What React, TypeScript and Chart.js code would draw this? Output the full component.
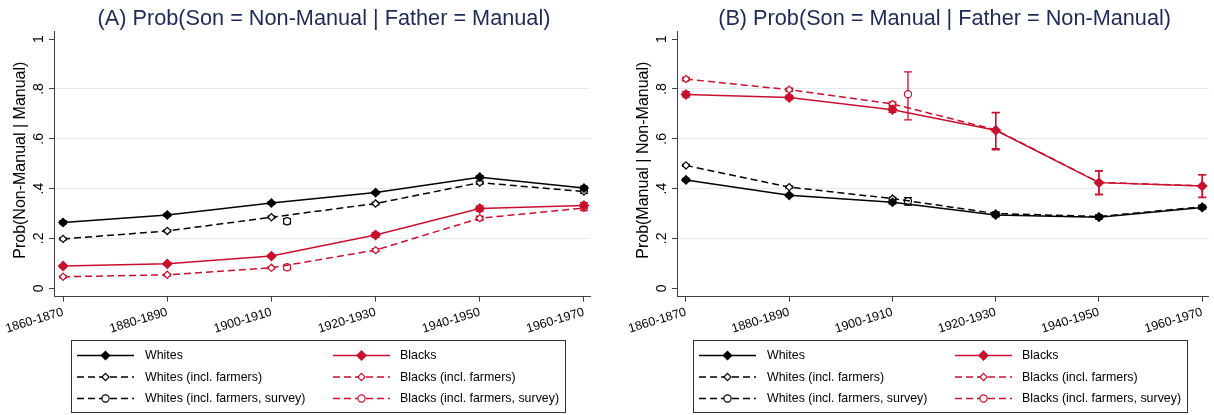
import React, { useEffect, useRef } from 'react';
import { Chart, registerables } from 'chart.js';

Chart.register(...registerables);

// ---------- data ----------
const cohorts = ['1860-1870', '1880-1890', '1900-1910', '1920-1930', '1940-1950', '1960-1970'];
const cohortPos = [0, 1, 2, 3, 4, 5];
const surveyPos = [2.15];
const yTickValues = [0, 0.2, 0.4, 0.6, 0.8, 1];
const yTickLabels = ['0', '.2', '.4', '.6', '.8', '1'];

const seriesLabels = [
  'Whites',
  'Whites (incl. farmers)',
  'Whites (incl. farmers, survey)',
  'Blacks',
  'Blacks (incl. farmers)',
  'Blacks (incl. farmers, survey)',
];

const titleA = '(A) Prob(Son = Non-Manual | Father = Manual)';
const yTitleA = 'Prob(Non-Manual | Manual)';
const titleB = '(B) Prob(Son = Manual | Father = Non-Manual)';
const yTitleB = 'Prob(Manual | Non-Manual)';

// Panel A
const aWhites = [0.264, 0.294, 0.342, 0.384, 0.446, 0.402];
const aWhitesLo = [0.258, 0.289, 0.337, 0.379, 0.44, 0.394];
const aWhitesHi = [0.27, 0.299, 0.347, 0.389, 0.452, 0.41];
const aWhitesFarm = [0.198, 0.23, 0.285, 0.34, 0.424, 0.388];
const aWhitesFarmLo = [0.194, 0.226, 0.281, 0.335, 0.418, 0.381];
const aWhitesFarmHi = [0.202, 0.234, 0.289, 0.345, 0.43, 0.395];
const aWhitesSurvey = [0.269];
const aWhitesSurveyLo = [0.259];
const aWhitesSurveyHi = [0.279];
const aBlacks = [0.089, 0.098, 0.129, 0.214, 0.32, 0.332];
const aBlacksLo = [0.083, 0.093, 0.123, 0.204, 0.309, 0.32];
const aBlacksHi = [0.095, 0.103, 0.135, 0.224, 0.331, 0.344];
const aBlacksFarm = [0.046, 0.054, 0.082, 0.153, 0.281, 0.322];
const aBlacksFarmLo = [0.042, 0.05, 0.078, 0.147, 0.273, 0.312];
const aBlacksFarmHi = [0.05, 0.058, 0.086, 0.159, 0.289, 0.332];
const aBlacksSurvey = [0.084];
const aBlacksSurveyLo = [0.075];
const aBlacksSurveyHi = [0.093];

// Panel B
const bWhites = [0.435, 0.373, 0.345, 0.294, 0.285, 0.324];
const bWhitesLo = [0.429, 0.368, 0.339, 0.287, 0.278, 0.317];
const bWhitesHi = [0.441, 0.378, 0.351, 0.301, 0.292, 0.331];
const bWhitesFarm = [0.493, 0.406, 0.36, 0.3, 0.288, 0.327];
const bWhitesFarmLo = [0.489, 0.402, 0.355, 0.294, 0.282, 0.32];
const bWhitesFarmHi = [0.497, 0.41, 0.365, 0.306, 0.294, 0.334];
const bWhitesSurvey = [0.349];
const bWhitesSurveyLo = [0.334];
const bWhitesSurveyHi = [0.364];
const bBlacks = [0.778, 0.766, 0.717, 0.634, 0.424, 0.41];
const bBlacksLo = [0.767, 0.757, 0.706, 0.556, 0.375, 0.364];
const bBlacksHi = [0.789, 0.775, 0.728, 0.704, 0.472, 0.456];
const bBlacksFarm = [0.84, 0.797, 0.74, 0.636, 0.425, 0.411];
const bBlacksFarmLo = [0.833, 0.791, 0.732, 0.56, 0.378, 0.366];
const bBlacksFarmHi = [0.847, 0.803, 0.748, 0.706, 0.47, 0.455];
const bBlacksSurvey = [0.779];
const bBlacksSurveyLo = [0.676];
const bBlacksSurveyHi = [0.869];

// ---------- styles ----------
const FONT = '"Liberation Sans", Arial, Helvetica, sans-serif';
const BLACK = '#000000';
const RED = '#c8102e';
const AXIS = '#404040';
const GRID = '#e3ebee';
const TITLE_COLOR = '#1e2a55';
const DASH = [7, 4];

type Spec = {
  label: string;
  pos: number[];
  vals: number[];
  lo: number[];
  hi: number[];
  color: string;
  dash: number[];
  showLine: boolean;
  marker: 'diamond' | 'circle';
  filled: boolean;
  radius: number;
};

function makeSpecs(
  w: number[], wl: number[], wh: number[],
  wf: number[], wfl: number[], wfh: number[],
  ws: number[], wsl: number[], wsh: number[],
  b: number[], bl: number[], bh: number[],
  bf: number[], bfl: number[], bfh: number[],
  bs: number[], bsl: number[], bsh: number[]
): Spec[] {
  return [
    { label: seriesLabels[0], pos: cohortPos, vals: w, lo: wl, hi: wh, color: BLACK, dash: [], showLine: true, marker: 'diamond', filled: true, radius: 4.2 },
    { label: seriesLabels[1], pos: cohortPos, vals: wf, lo: wfl, hi: wfh, color: BLACK, dash: DASH, showLine: true, marker: 'diamond', filled: false, radius: 3.6 },
    { label: seriesLabels[2], pos: surveyPos, vals: ws, lo: wsl, hi: wsh, color: BLACK, dash: DASH, showLine: false, marker: 'circle', filled: false, radius: 3.6 },
    { label: seriesLabels[3], pos: cohortPos, vals: b, lo: bl, hi: bh, color: RED, dash: [], showLine: true, marker: 'diamond', filled: true, radius: 4.6 },
    { label: seriesLabels[4], pos: cohortPos, vals: bf, lo: bfl, hi: bfh, color: RED, dash: DASH, showLine: true, marker: 'diamond', filled: false, radius: 3.6 },
    { label: seriesLabels[5], pos: surveyPos, vals: bs, lo: bsl, hi: bsh, color: RED, dash: DASH, showLine: false, marker: 'circle', filled: false, radius: 3.6 },
  ];
}

const specsA = makeSpecs(
  aWhites, aWhitesLo, aWhitesHi,
  aWhitesFarm, aWhitesFarmLo, aWhitesFarmHi,
  aWhitesSurvey, aWhitesSurveyLo, aWhitesSurveyHi,
  aBlacks, aBlacksLo, aBlacksHi,
  aBlacksFarm, aBlacksFarmLo, aBlacksFarmHi,
  aBlacksSurvey, aBlacksSurveyLo, aBlacksSurveyHi
);
const specsB = makeSpecs(
  bWhites, bWhitesLo, bWhitesHi,
  bWhitesFarm, bWhitesFarmLo, bWhitesFarmHi,
  bWhitesSurvey, bWhitesSurveyLo, bWhitesSurveyHi,
  bBlacks, bBlacksLo, bBlacksHi,
  bBlacksFarm, bBlacksFarmLo, bBlacksFarmHi,
  bBlacksSurvey, bBlacksSurveyLo, bBlacksSurveyHi
);

function drawMarker(ctx: CanvasRenderingContext2D, s: Spec, x: number, y: number) {
  ctx.save();
  ctx.setLineDash([]);
  ctx.beginPath();
  const r = s.radius;
  if (s.marker === 'diamond') {
    ctx.moveTo(x, y - r);
    ctx.lineTo(x + r, y);
    ctx.lineTo(x, y + r);
    ctx.lineTo(x - r, y);
    ctx.closePath();
  } else {
    ctx.arc(x, y, r, 0, Math.PI * 2);
  }
  ctx.fillStyle = s.filled ? s.color : '#ffffff';
  ctx.fill();
  ctx.strokeStyle = s.color;
  ctx.lineWidth = 1.2;
  ctx.stroke();
  ctx.restore();
}

type PanelProps = {
  left: number;
  width: number;
  padRight: number;
  title: string;
  yTitle: string;
  specs: Spec[];
  legendLeft: number;
};

const HEIGHT = 415;
const X_MIN = -0.087;
const X_MAX = 5.058;
const Y_MIN = -0.034;
const Y_MAX = 1.03;

function Panel(props: PanelProps) {
  const ref = useRef<HTMLCanvasElement | null>(null);
  useEffect(() => {
    const canvas = ref.current;
    if (!canvas) return;
    const specs = props.specs;

    const datasets = specs.map((s) => ({
      label: s.label,
      data: s.pos.map((p, i) => ({ x: p, y: s.vals[i] })),
      borderColor: s.color,
      backgroundColor: s.filled ? s.color : '#ffffff',
      borderWidth: 1.5,
      borderDash: s.dash,
      showLine: s.showLine,
      pointStyle: s.marker === 'diamond' ? 'rectRot' : 'circle',
      pointRadius: s.radius,
      pointBorderWidth: 1.2,
      pointBorderColor: s.color,
      pointBackgroundColor: s.filled ? s.color : '#ffffff',
      tension: 0,
    }));

    const errorBars = {
      id: 'errorBars',
      beforeDatasetsDraw(chart: any) {
        const ctx = chart.ctx as CanvasRenderingContext2D;
        const xs = chart.scales.x;
        const ys = chart.scales.y;
        specs.forEach((s) => {
          ctx.save();
          ctx.strokeStyle = s.color;
          ctx.lineWidth = 1.3;
          ctx.setLineDash([]);
          s.pos.forEach((p, i) => {
            const x = xs.getPixelForValue(p);
            const y1 = ys.getPixelForValue(s.lo[i]);
            const y2 = ys.getPixelForValue(s.hi[i]);
            ctx.beginPath();
            ctx.moveTo(x, y1);
            ctx.lineTo(x, y2);
            ctx.moveTo(x - 4, y1);
            ctx.lineTo(x + 4, y1);
            ctx.moveTo(x - 4, y2);
            ctx.lineTo(x + 4, y2);
            ctx.stroke();
          });
          ctx.restore();
        });
      },
    };

    const textPlugin = {
      id: 'panelText',
      afterDraw(chart: any) {
        const ctx = chart.ctx as CanvasRenderingContext2D;
        const area = chart.chartArea;
        const ys = chart.scales.y;
        // title
        ctx.save();
        ctx.fillStyle = TITLE_COLOR;
        ctx.font = `21.7px ${FONT}`;
        ctx.textAlign = 'center';
        ctx.textBaseline = 'alphabetic';
        ctx.fillText(props.title, (area.left + area.right) / 2 + 2, 24.5);
        ctx.restore();
        // y tick labels (vertical)
        yTickValues.forEach((v, i) => {
          const y = ys.getPixelForValue(v);
          ctx.save();
          ctx.translate(42.5, y);
          ctx.rotate(-Math.PI / 2);
          ctx.fillStyle = '#000000';
          ctx.font = `14px ${FONT}`;
          ctx.textAlign = 'center';
          ctx.textBaseline = 'alphabetic';
          ctx.fillText(yTickLabels[i], 0, 0);
          ctx.restore();
        });
        // y title
        ctx.save();
        ctx.translate(25, (area.top + area.bottom) / 2 - 4);
        ctx.rotate(-Math.PI / 2);
        ctx.fillStyle = '#000000';
        ctx.font = `16px ${FONT}`;
        ctx.textAlign = 'center';
        ctx.textBaseline = 'alphabetic';
        ctx.fillText(props.yTitle, 0, 0);
        ctx.restore();
        // legend box
        const L = props.legendLeft;
        const top = 340;
        const boxW = 494;
        const boxH = 72;
        ctx.save();
        ctx.strokeStyle = '#333333';
        ctx.lineWidth = 1;
        ctx.strokeRect(L + 0.5, top + 0.5, boxW, boxH);
        ctx.restore();
        const rowsY = [355.5, 377, 398.5];
        const cols = [
          { x1: L + 6, x2: L + 63, tx: L + 74 },
          { x1: L + 262, x2: L + 319, tx: L + 329 },
        ];
        specs.forEach((s, idx) => {
          const col = cols[idx < 3 ? 0 : 1];
          const y = rowsY[idx % 3];
          ctx.save();
          ctx.strokeStyle = s.color;
          ctx.lineWidth = 1.5;
          ctx.setLineDash(s.dash);
          ctx.beginPath();
          ctx.moveTo(col.x1, y);
          ctx.lineTo(col.x2, y);
          ctx.stroke();
          ctx.restore();
          drawMarker(ctx, s, (col.x1 + col.x2) / 2, y);
          ctx.save();
          ctx.fillStyle = '#000000';
          ctx.font = `12.4px ${FONT}`;
          ctx.textAlign = 'left';
          ctx.textBaseline = 'middle';
          ctx.fillText(s.label, col.tx, y + 0.5);
          ctx.restore();
        });
      },
    };

    const chart = new Chart(canvas, {
      type: 'line',
      data: { datasets: datasets as any },
      options: {
        animation: false,
        responsive: false,
        maintainAspectRatio: false,
        layout: { padding: { left: 8, right: props.padRight, top: 31.7, bottom: 78.3 } },
        plugins: {
          legend: { display: false },
          title: { display: false },
          tooltip: { enabled: false },
        },
        scales: {
          x: {
            type: 'linear',
            min: X_MIN,
            max: X_MAX,
            afterBuildTicks: (s: any) => {
              s.ticks = cohortPos.map((v) => ({ value: v }));
            },
            afterFit: (s: any) => {
              s.height = 40;
            },
            ticks: {
              autoSkip: false,
              minRotation: 17,
              maxRotation: 17,
              padding: 3,
              color: '#000000',
              font: { family: FONT, size: 12.5 },
              callback: (v: any) => cohorts[Math.round(Number(v))],
            },
            grid: { drawOnChartArea: false, drawTicks: true, tickLength: 5, color: AXIS },
            border: { display: true, color: AXIS, width: 1 },
          },
          y: {
            type: 'linear',
            min: Y_MIN,
            max: Y_MAX,
            afterBuildTicks: (s: any) => {
              s.ticks = yTickValues.map((v) => ({ value: v }));
            },
            afterFit: (s: any) => {
              s.width = 46;
            },
            ticks: { display: false },
            grid: {
              color: (c: any) =>
                c.tick && (c.tick.value === 0 || c.tick.value === 1) ? 'rgba(0,0,0,0)' : GRID,
              tickColor: AXIS,
              tickLength: 5,
              lineWidth: 1,
            },
            border: { display: true, color: AXIS, width: 1 },
          },
        },
      } as any,
      plugins: [errorBars, textPlugin],
    });
    return () => chart.destroy();
  }, []);

  return (
    <canvas
      ref={ref}
      width={props.width}
      height={HEIGHT}
      style={{ position: 'absolute', left: props.left, top: 0, width: props.width, height: HEIGHT }}
    />
  );
}

export default function App() {
  return (
    <div
      style={{
        position: 'absolute',
        left: 0,
        top: 0,
        width: 1214,
        height: 415,
        background: '#ffffff',
        overflow: 'hidden',
      }}
    >
      <Panel left={0} width={600} padRight={10} title={titleA} yTitle={yTitleA} specs={specsA} legendLeft={71} />
      <Panel left={623} width={591} padRight={4} title={titleB} yTitle={yTitleB} specs={specsB} legendLeft={70} />
    </div>
  );
}
